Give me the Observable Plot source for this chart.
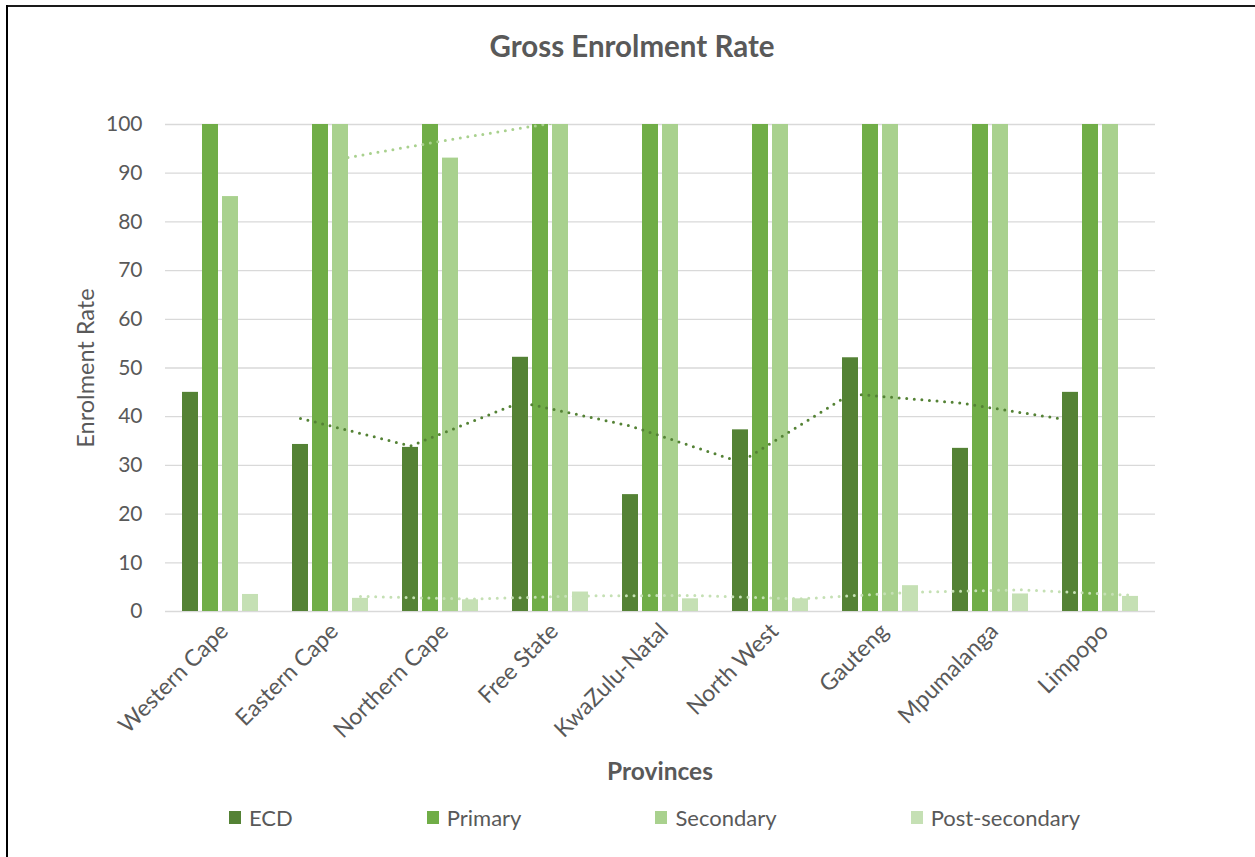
<!DOCTYPE html>
<html>
<head>
<meta charset="utf-8">
<script src="https://cdn.jsdelivr.net/npm/d3@7"></script>
<script src="https://cdn.jsdelivr.net/npm/@observablehq/plot@0.6"></script>
<style>
  body { margin: 0; background: #fff; font-family: Lato, "Open Sans", sans-serif; color: #595959; }
  #page { position: relative; width: 1255px; height: 857px; overflow: hidden; background: #fff; }
  #frameTop { position: absolute; left: 6px; top: 5px; right: 0; height: 2px; background: #1a1a1a; }
  #frameLeft { position: absolute; left: 6px; top: 5px; bottom: 0; width: 2px; background: #000; }
  #title { position: absolute; left: 0; width: 1264px; top: 28px; text-align: center; font-weight: 700; font-size: 29.5px; }
  #chart { position: absolute; left: 0; top: 80px; }
  #xlabel { position: absolute; left: 165px; width: 990px; top: 756px; text-align: center; font-weight: 700; font-size: 24.5px; }
  #legend { position: absolute; left: 229px; top: 804px; display: flex; gap: 134px; font-size: 22px; }
  .item { display: flex; align-items: center; white-space: nowrap; }
  .sw { width: 12px; height: 13px; margin-right: 8px; }
</style>
</head>
<body>
<div id="page">
  <div id="frameTop"></div>
  <div id="frameLeft"></div>
  <div id="title">Gross Enrolment Rate</div>
  <div id="chart"></div>
  <div id="xlabel">Provinces</div>
  <div id="legend"></div>
</div>
<script>
// Provinces along the category axis
const provinces = ["Western Cape", "Eastern Cape", "Northern Cape", "Free State", "KwaZulu-Natal",
  "North West", "Gauteng", "Mpumalanga", "Limpopo"];

// Gross enrolment rate per education level (values above 100 run off the top of the axis)
const ecd = [45.0, 34.3, 33.7, 52.2, 24.0, 37.3, 52.1, 33.5, 45.0];
const primary = [102.5, 110.3, 107.1, 106.4, 108.2, 104.6, 101.8, 107.3, 109.0];
const secondary = [85.2, 100.7, 93.1, 108.0, 103.4, 101.6, 104.2, 106.1, 102.3];
const postSecondary = [3.5, 2.7, 2.4, 4.0, 2.6, 2.6, 5.3, 3.6, 3.1];

const seriesNames = ["ECD", "Primary", "Secondary", "Post-secondary"];
const seriesColors = ["#548235", "#70AD47", "#A9D18E", "#C5E0B4"];
const seriesValues = [ecd, primary, secondary, postSecondary];
// Which series carry a two-period moving-average trendline
const trendSeries = ["ECD", "Secondary", "Post-secondary"];

const yTicks = [0, 10, 20, 30, 40, 50, 60, 70, 80, 90, 100];
const yLabel = "Enrolment Rate";

// Long table: one row per province and level
const rows = seriesNames.flatMap((s, i) =>
  provinces.map((p, j) => ({ province: p, series: s, value: seriesValues[i][j] })));

// Two-period moving average, starting at the second category
function movingAverage(vals) {
  return vals.map((v, i) => ({ province: provinces[i], value: i === 0 ? NaN : (vals[i - 1] + v) / 2 }));
}

// Bars sit side by side inside each province band
const offsets = [-30, -10, 10, 30];
const inset = 47;

const marks = [
  Plot.gridY(yTicks, { stroke: "#d9d9d9", strokeOpacity: 1, strokeWidth: 1.3 }),
  ...seriesNames.map((s, i) => Plot.barY(rows.filter(d => d.series === s), {
    x: "province", y: "value", fill: seriesColors[i],
    insetLeft: inset, insetRight: inset, dx: offsets[i], clip: true
  })),
  ...trendSeries.map(s => {
    const i = seriesNames.indexOf(s);
    return Plot.line(movingAverage(seriesValues[i]), {
      x: "province", y: "value", stroke: seriesColors[i], strokeWidth: 3,
      strokeDasharray: "0 7.6", strokeLinecap: "round", dx: offsets[i], clip: true
    });
  }),
  Plot.axisY(yTicks, { tickSize: 0, tickPadding: 23, fontSize: 21, label: null }),
  Plot.axisX({ tickSize: 0, tickRotate: -45, tickPadding: 16, dx: 4, fontSize: 23, label: null }),
  // Rotated y-axis title, centred on the plot height
  Plot.text([yLabel], {
    frameAnchor: "left", text: d => d, rotate: -90, dx: -79, textAnchor: "middle",
    fontSize: 23.5, fill: "#595959"
  })
];

const chart = Plot.plot({
  width: 1255,
  height: 680,
  marginLeft: 165,
  marginRight: 100,
  marginTop: 44,
  marginBottom: 149,
  style: { fontFamily: "Lato, 'Open Sans', sans-serif", fontSize: "21px", color: "#595959", background: "transparent" },
  x: { domain: provinces, padding: 0 },
  y: { domain: [0, 100] },
  marks
});
document.getElementById("chart").appendChild(chart);

// Legend built from the series list
const legend = d3.select("#legend");
seriesNames.forEach((s, i) => {
  const item = legend.append("div").attr("class", "item");
  item.append("div").attr("class", "sw").style("background", seriesColors[i]);
  item.append("span").text(s);
});
</script>
</body>
</html>
